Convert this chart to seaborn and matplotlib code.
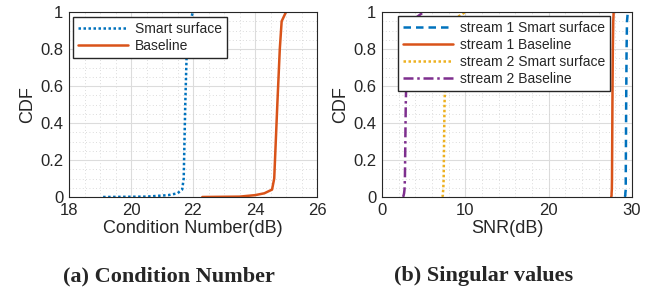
import numpy as np
import pandas as pd
import matplotlib
matplotlib.use("Agg")
import matplotlib.pyplot as plt
import matplotlib.ticker as mticker
import seaborn as sns

# -----------------------------------------------------------------------------
# Data (CDF curves)
# -----------------------------------------------------------------------------
cdf_levels = [0.0, 0.002, 0.01, 0.02, 0.04, 0.1, 0.5, 0.8, 0.95, 1.0]

# (a) condition number, dB
cn_smart = [19.1, 20.5, 21.2, 21.5, 21.65, 21.7, 21.75, 21.8, 21.9, 22.0]
cn_base = [22.3, 23.5, 24.0, 24.3, 24.55, 24.62, 24.72, 24.8, 24.86, 25.0]

# (b) SNR per stream, dB
s1_smart = [29.1, 29.15, 29.2, 29.2, 29.25, 29.25, 29.3, 29.35, 29.4, 29.5]
s1_base = [27.5, 27.52, 27.55, 27.55, 27.58, 27.6, 27.65, 27.7, 27.75, 27.8]
s2_smart = [7.2, 7.25, 7.3, 7.3, 7.35, 7.4, 7.5, 7.7, 8.3, 10.0]
s2_base = [2.5, 2.55, 2.6, 2.65, 2.7, 2.75, 2.85, 3.0, 3.5, 5.0]

colors = ["#0072BD", "#D95319", "#EDB120", "#7E2F8E"]

# -----------------------------------------------------------------------------
# Plotting attributes
# -----------------------------------------------------------------------------
sns.set_theme(style="white")
plt.rcParams["font.family"] = ["Liberation Sans", "DejaVu Sans"]
plt.rcParams["axes.edgecolor"] = "#262626"
plt.rcParams["axes.linewidth"] = 0.8

fig = plt.figure(figsize=(6.64, 2.9), dpi=100)
ax1 = fig.add_axes([69 / 664, 1 - 197 / 290, 248 / 664, 185 / 290])
ax2 = fig.add_axes([382 / 664, 1 - 197 / 290, 250 / 664, 185 / 290])


def style_axes(ax, xmin, xmax, xmajor, xminor):
    ax.set_xlim(xmin, xmax)
    ax.set_ylim(0, 1)
    ax.xaxis.set_major_locator(mticker.MultipleLocator(xmajor))
    ax.xaxis.set_minor_locator(mticker.MultipleLocator(xminor))
    ax.yaxis.set_major_locator(mticker.MultipleLocator(0.2))
    ax.yaxis.set_minor_locator(mticker.MultipleLocator(0.05))
    ax.yaxis.set_major_formatter(mticker.FuncFormatter(lambda v, p: "%g" % round(v, 2)))
    ax.grid(which="major", color="#dcdcdc", lw=0.8, ls="-")
    ax.grid(which="minor", color="#d0d0d0", lw=0.6, ls=(0, (1, 3)))
    ax.set_axisbelow(True)
    ax.tick_params(which="major", direction="in", length=3, labelsize=12, color="#262626", pad=4)
    ax.tick_params(which="minor", length=0)
    ax.set_ylabel("CDF", fontsize=13, labelpad=3)
    for s in ax.spines.values():
        s.set_visible(True)


leg_kw = dict(loc="upper left", fontsize=10, frameon=True, fancybox=False,
              edgecolor="#262626", framealpha=1, borderpad=0.35,
              handlelength=3.6, handletextpad=0.5, labelspacing=0.22,
              borderaxespad=0)

# (a) Condition number
df_a = pd.DataFrame({
    "x": cn_smart + cn_base,
    "y": cdf_levels * 2,
    "series": ["Smart surface"] * len(cn_smart) + ["Baseline"] * len(cn_base),
})
sns.lineplot(data=df_a, x="x", y="y", hue="series", style="series",
             palette=colors[:2], dashes=[(1, 1), ""], sort=False,
             estimator=None, lw=1.8, ax=ax1)
style_axes(ax1, 18, 26, 2, 0.5)
ax1.set_xlabel("Condition Number(dB)", fontsize=13, labelpad=2)
ax1.legend(bbox_to_anchor=(4 / 248, 1 - 5 / 185), **leg_kw)

# (b) Singular values
names_b = ["stream 1 Smart surface", "stream 1 Baseline",
           "stream 2 Smart surface", "stream 2 Baseline"]
vals_b = [s1_smart, s1_base, s2_smart, s2_base]
df_b = pd.DataFrame({
    "x": sum(vals_b, []),
    "y": cdf_levels * 4,
    "series": sum([[n] * len(v) for n, v in zip(names_b, vals_b)], []),
})
sns.lineplot(data=df_b, x="x", y="y", hue="series", style="series",
             palette=colors, dashes=[(3, 2), "", (1, 1), (4, 1.5, 1, 1.5)],
             sort=False, estimator=None, lw=1.8, ax=ax2)
style_axes(ax2, 0, 30, 10, 2)
ax2.set_xlabel("SNR(dB)", fontsize=13, labelpad=2)
ax2.legend(bbox_to_anchor=(16 / 250, 1 - 4 / 185), **leg_kw)

# Sub-captions
fig.text(169 / 664, 1 - 276 / 290, "(a) Condition Number", ha="center", va="center",
         fontsize=16, fontweight="bold", family=["Liberation Serif", "DejaVu Serif"])
fig.text(484 / 664, 1 - 276 / 290, "(b) Singular values", ha="center", va="center",
         fontsize=16, fontweight="bold", family=["Liberation Serif", "DejaVu Serif"])

plt.savefig("out.png", dpi=100)
